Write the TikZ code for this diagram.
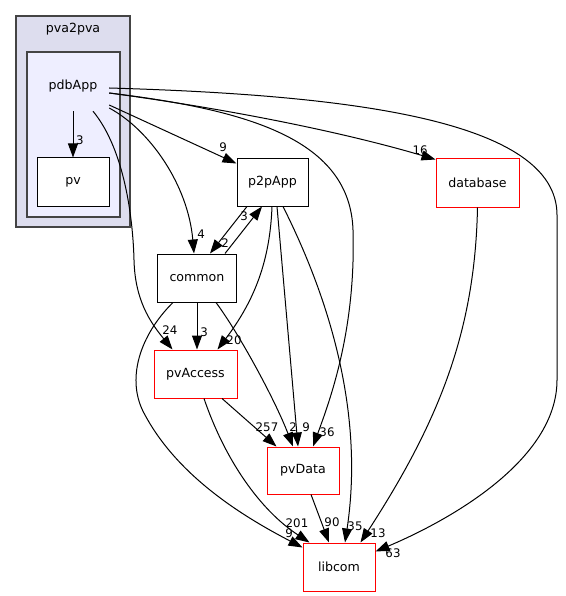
\documentclass[tikz,border=0pt]{standalone}
\usepackage{fontspec}
\setmainfont{DejaVu Sans}
\usetikzlibrary{arrows.meta}

\definecolor{outerfill}{HTML}{DDDDEE}
\definecolor{innerfill}{HTML}{EEEEFF}
\definecolor{clusterline}{HTML}{444444}

\tikzset{
  dirnode/.style  = {shape=rectangle, draw=black, fill=white, line width=1pt,
                     minimum width=72pt, minimum height=48pt, inner sep=0pt,
                     font=\fontsize{12.6}{15}\selectfont},
  extnode/.style  = {dirnode, draw=red},
  cluster/.style  = {shape=rectangle, draw=clusterline, line width=1.3pt, inner sep=0pt},
  outercl/.style  = {cluster, fill=outerfill},
  innercl/.style  = {cluster, fill=innerfill},
  cllabel/.style  = {inner sep=0pt, font=\fontsize{12.6}{15}\selectfont},
  dep/.style      = {draw, line width=1pt, -{Triangle[length=14pt 0,width=10pt 0]}},
  deplabel/.style = {inner sep=0pt, font=\fontsize{11.8}{14}\selectfont}
}

\begin{document}
\begin{tikzpicture}[x=1pt, y=-1pt]
\useasboundingbox (0,0) rectangle (565,596);

% clusters
\node[outercl, minimum width=114pt, minimum height=211pt] (pva2pva) at (73,121.5) {};
\node[cllabel] (pva2pvalabel) at (73,29) {pva2pva};
\node[innercl, minimum width=93pt, minimum height=165pt] (pdbAppcl) at (73.5,134.5) {};
\node[cllabel, minimum width=72pt, minimum height=50pt] (pdbApp) at (73,86) {pdbApp};

% directories
\node[dirnode] (pv) at (73,182) {pv};
\node[dirnode, minimum width=71pt, minimum height=47pt] (p2pApp) at (272.5,182.5) {p2pApp};
\node[dirnode, minimum width=79pt] (common) at (197,278) {common};
\node[extnode, minimum width=83pt] (database) at (477.5,183) {database};
\node[extnode, minimum width=83pt] (pvAccess) at (195.5,374) {pvAccess};
\node[extnode, minimum height=47pt] (pvData) at (303,470.5) {pvData};
\node[extnode] (libcom) at (339,567) {libcom};

% dependencies of pdbApp
\draw[dep] (pdbApp.south) -- (pv.north)
  node[deplabel, at={(80,140)}] {3};
\draw[dep] ([yshift=-19pt]pdbApp.east) -- ([yshift=-5pt]p2pApp.north west)
  node[deplabel, at={(223,147)}] {9};
\draw[dep] ([yshift=-22pt]pdbApp.east) .. controls (150,130) and (188,185) .. ([xshift=-3pt]common.north)
  node[deplabel, at={(201,234)}] {4};
\draw[dep] ([xshift=20pt]pdbApp.south) .. controls (125,150) and (133,220) .. (134,260)
  .. controls (135,300) and (150,322) .. ([xshift=-23pt]pvAccess.north)
  node[deplabel, at={(170,330)}] {24};
\draw[dep] ([yshift=-7pt]pdbApp.east) .. controls (250,110) and (350,140) .. (353,230)
  .. controls (356,330) and (330,400) .. ([xshift=10pt]pvData.north)
  node[deplabel, at={(327,432)}] {36};
\draw[dep] ([yshift=-7pt]pdbApp.east) .. controls (250,112) and (360,137) .. ([yshift=-1pt]database.north west)
  node[deplabel, at={(420,150)}] {16};
\draw[dep] ([yshift=-2pt]pdbApp.east) .. controls (350,95) and (557,120) .. (557,215)
  -- (557,380) .. controls (557,460) and (450,520) .. ([yshift=-9pt]libcom.north east)
  node[deplabel, at={(393,553)}] {63};

% dependencies between directories
\draw[dep] ([xshift=-25.5pt]p2pApp.south) -- ([xshift=13pt]common.north)
  node[deplabel, at={(225,243)}] {2};
\draw[dep] ([xshift=-12pt]common.north east) -- ([xshift=-10.5pt]p2pApp.south)
  node[deplabel, at={(244,216)}] {3};
\draw[dep] (common.south) -- ([xshift=1.5pt]pvAccess.north)
  node[deplabel, at={(204,332)}] {3};
\draw[dep] ([xshift=-0.5pt]p2pApp.south) .. controls (270,260) and (255,300) .. ([xshift=-20pt]pvAccess.north east)
  node[deplabel, at={(234,340)}] {20};
\draw[dep] ([xshift=4.5pt]p2pApp.south) -- ([xshift=-5pt]pvData.north)
  node[deplabel, at={(306,427)}] {9};
\draw[dep] ([xshift=19pt]common.south) .. controls (240,335) and (275,400) .. ([xshift=-10pt]pvData.north)
  node[deplabel, at={(293,427)}] {2};
\draw[dep] ([xshift=-24pt]common.south) .. controls (140,335) and (125,380) .. (145,415)
  .. controls (180,480) and (250,520) .. ([yshift=-5pt]libcom.north west)
  node[deplabel, at={(289,533)}] {9};
\draw[dep] ([xshift=-15.5pt]pvAccess.south east) -- ([xshift=10pt]pvData.north west)
  node[deplabel, at={(267,427)}] {257};
\draw[dep] ([xshift=8.5pt]pvAccess.south) .. controls (225,460) and (260,510) .. ([xshift=7pt]libcom.north west)
  node[deplabel, at={(297,523)}] {201};
\draw[dep] ([xshift=8pt]pvData.south) -- ([xshift=-10pt]libcom.north)
  node[deplabel, at={(332,522)}] {90};
\draw[dep] ([xshift=10.5pt]p2pApp.south) .. controls (340,320) and (362,430) .. ([xshift=6pt]libcom.north)
  node[deplabel, at={(355,526)}] {35};
\draw[dep] (database.south) .. controls (475,330) and (440,420) .. ([xshift=-15pt]libcom.north east)
  node[deplabel, at={(378,533)}] {13};
\end{tikzpicture}
\end{document}
